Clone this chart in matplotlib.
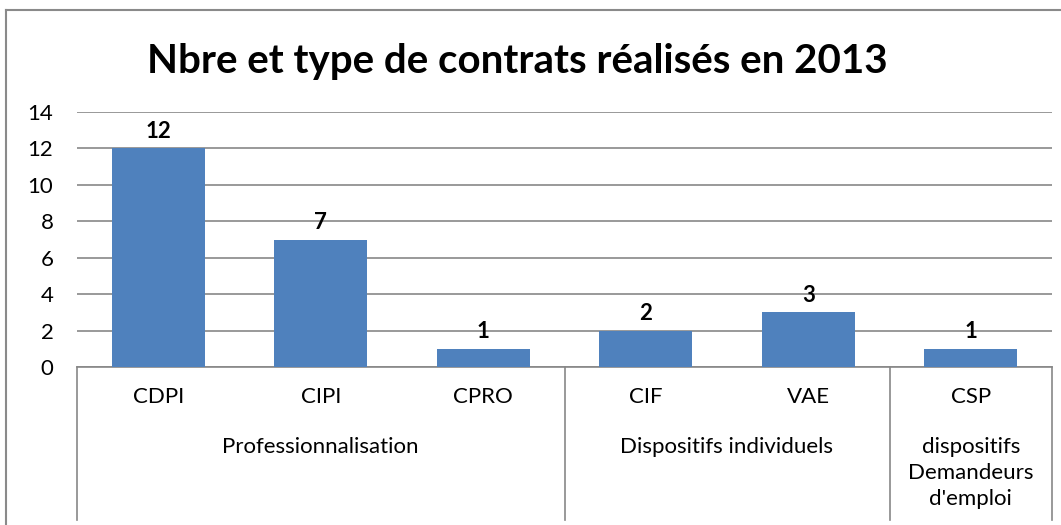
import matplotlib
matplotlib.use("Agg")
import matplotlib.pyplot as plt
from matplotlib.transforms import blended_transform_factory
from matplotlib.lines import Line2D

categories = ["CDPI", "CIPI", "CPRO", "CIF", "VAE", "CSP"]
values = [12, 7, 1, 2, 3, 1]
groups = ["Professionnalisation", "Dispositifs individuels", "dispositifs\nDemandeurs\nd'emploi"]
group_sizes = [3, 2, 1]
yticks = [0, 2, 4, 6, 8, 10, 12, 14]
title = "Nbre et type de contrats réalisés en 2013"

plt.rcParams['font.family'] = ['Lato', 'DejaVu Sans']
W, H = 1061, 525
fig = plt.figure(figsize=(W / 100, H / 100), dpi=100)
ax = fig.add_axes([77 / W, (H - 367) / H, (1052 - 77) / W, (367 - 112) / H])

x = list(range(len(categories)))
bars = ax.bar(x, values, width=0.57, color="#4F81BD", zorder=3)
for xi, v in zip(x, values):
    ax.text(xi, v + 0.35, str(v), ha="center", va="bottom", fontsize=16,
            fontweight="bold", color="black")

ax.set_xlim(-0.5, len(categories) - 0.5)
ax.set_ylim(0, 14)
ax.set_yticks(yticks)
ax.set_yticklabels([str(t) for t in yticks], fontsize=16)
ax.set_xticks([])
ax.tick_params(axis="y", length=0, pad=17)
ax.yaxis.grid(True, color="#878787", linewidth=1.2, zorder=0)
for s in ["top", "right", "left"]:
    ax.spines[s].set_visible(False)
ax.spines["bottom"].set_color("#878787")
ax.spines["bottom"].set_linewidth(1.2)

trans = blended_transform_factory(ax.transData, ax.transAxes)
ylow = -(520 - 367) / (367 - 112)
# category labels
for xi, c in zip(x, categories):
    ax.text(xi, -(397 - 367) / (367 - 112), c, transform=trans, ha="center", va="center",
            fontsize=16)
# group separators and labels
start = 0
bounds = [-0.5]
for g, n in zip(groups, group_sizes):
    center = start + (n - 1) / 2
    ax.text(center, -(437 - 367) / (367 - 112), g, transform=trans, ha="center", va="top",
            fontsize=16, linespacing=1.38)
    start += n
    bounds.append(start - 0.5)
for b in bounds:
    ax.plot([b, b], [0, ylow], transform=trans, color="#878787", linewidth=1.2, clip_on=False)

fig.text(0.5 * (150 + 885) / W, (H - 62) / H, title, ha="center", va="center",
         fontsize=29, fontweight="bold")

# outer chart frame
fig.add_artist(Line2D([6 / W, 1], [(H - 10) / H] * 2, transform=fig.transFigure,
                      color="#8a8a8a", linewidth=1.5))
fig.add_artist(Line2D([6 / W] * 2, [0, (H - 10) / H], transform=fig.transFigure,
                      color="#8a8a8a", linewidth=1.5))

fig.savefig("out.png", dpi=100)
